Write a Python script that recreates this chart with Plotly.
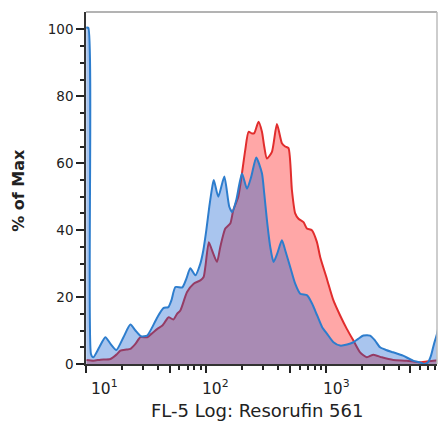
import plotly.graph_objects as go

# ---- data ----
blue_x = [10.05, 10.45, 11.0, 11.5, 12.9, 14.5, 16.0, 17.9, 20.5, 23.4, 25.8, 28.7, 32.3, 35.0,
          39.3, 44.1, 48.5, 51.4, 55.5, 63.4, 68.5, 73.9, 81.4, 89.5, 94.8, 100.4, 106.3, 112.6,
          115.9, 126.3, 141.7, 155.9, 165.1, 178.3, 198.8, 218.8, 237.5, 261.4, 291.5, 304.6,
          320.8, 341.8, 364.0, 390.8, 427.4, 455.3, 501.1, 551.3, 606.8, 693.9, 763.5, 840.3,
          924.6, 1017, 1148, 1305, 1492, 1683, 1842, 2038, 2317, 2550, 2806, 3147, 3598, 4357,
          5277, 6034, 6514, 7033, 7448, 7887, 8352, 8700]
blue_y = [100.5, 100.5, 3, 2, 5, 8, 6, 4.2, 8, 11.8, 10, 8.3, 8.5, 10.5,
          14, 16.7, 17, 19, 23, 22.9, 25.5, 28.6, 26.5, 30, 34, 40, 47, 53,
          55, 50, 56, 47, 45.4, 49, 56.9, 52.4, 56, 61.7, 57, 51,
          43, 35, 30.5, 33, 37, 34, 29, 24, 21, 20.5, 18, 14.5,
          11, 9, 6.5, 5.5, 5.8, 6.5, 7.5, 8.5, 8.5, 7, 5, 4.2, 3.5, 2.5,
          1, 0.5, 0, 0.5, 2.5, 6, 9, 12]

red_x = [10.1, 11.54, 13.2, 15.98, 17.92, 19.36, 21.72, 23.43, 25.79, 28.38, 32.27, 35.04, 39.29,
         43.24, 47.31, 48.78, 53.38, 57.29, 61.03, 69.38, 78.73, 89.5, 95.3, 98.5, 105.3, 111.9,
         123.2, 131.2, 144.4, 158.9, 168.3, 185.2, 198.8, 211.8, 225.6, 240.8, 251.6, 273.2,
         291.5, 304.6, 320.8, 353.1, 388.5, 427.4, 455.3, 485.1, 517.7, 551.3, 587.3, 646.3,
         690.0, 759.3, 835.4, 889.8, 1011.6, 1147.7, 1305, 1483, 1683, 1913, 2176, 2469, 2899,
         3619, 4677, 6034, 7783, 8846]
red_y = [1.2, 1.0, 1.3, 1.5, 2.8, 4, 4.3, 4.5, 6, 8, 8, 9, 10.5,
         11.5, 13.5, 14, 13.3, 15, 16, 21.5, 24, 25, 26, 29, 36.4, 34,
         30.5, 35, 40.5, 42, 46, 50, 57, 64, 69.4, 68.9, 69, 72.4,
         69.4, 65, 61.4, 63.4, 71.7, 66, 65, 64.5, 52, 45, 43.4, 42.4,
         40.5, 40, 36.5, 32, 25.5, 19, 14.5, 10.5, 7, 3.5, 2, 2.8, 2,
         1.2, 1, 0.5, 1, 1]

x_major = [10, 50, 100, 500, 1000, 5000]
x_minor = [20, 30, 40, 60, 70, 80, 90, 200, 300, 400, 600, 700, 800, 900,
           2000, 3000, 4000, 6000, 7000, 8000]
x_label_pos = [1, 2, 3]          # log10 of 10, 100, 1000
x_label_sup = ["1", "2", "3"]
y_major = [0, 20, 40, 60, 80, 100]
y_minor = [5, 10, 15, 25, 30, 35, 45, 50, 55, 65, 70, 75, 85, 90, 95]

FONT = "DejaVu Sans"

fig = go.Figure()
fig.add_trace(go.Scatter(
    x=red_x, y=red_y, mode="lines", fill="tozeroy",
    line=dict(color="rgb(225,45,45)", width=2, shape="spline", smoothing=0.6),
    fillcolor="rgba(255,60,60,0.45)", showlegend=False, hoverinfo="skip"))
fig.add_trace(go.Scatter(
    x=blue_x, y=blue_y, mode="lines", fill="tozeroy",
    line=dict(color="rgb(45,125,205)", width=2, shape="spline", smoothing=0.6),
    fillcolor="rgba(10,90,205,0.35)", showlegend=False, hoverinfo="skip"))

fig.update_xaxes(
    type="log", range=[1, 3.922], showgrid=False, zeroline=False, automargin=False,
    showline=True, linecolor="#333", linewidth=1.5,
    ticks="outside", tickvals=x_major, ticktext=[""] * len(x_major),
    ticklen=7, tickwidth=2, tickcolor="#222",
    minor=dict(ticks="outside", tickvals=x_minor, ticklen=4, tickwidth=1.5,
               tickcolor="#222", showgrid=False),
)
fig.update_yaxes(
    range=[0, 105.2], showgrid=False, zeroline=False, automargin=False,
    showline=True, linecolor="#333", linewidth=1.5,
    ticks="outside", tickvals=y_major, ticklen=8, tickwidth=2, tickcolor="#222",
    tickfont=dict(family=FONT, size=13.5, color="#222"),
    minor=dict(ticks="outside", tickvals=y_minor, ticklen=4, tickwidth=1.5,
               tickcolor="#222", showgrid=False),
)

x_shifts = [3, -6, -5]
for pos, sup, sh in zip(x_label_pos, x_label_sup, x_shifts):
    fig.add_annotation(
        x=pos, xref="x", y=0, yref="paper",
        text=f"10<sup>{sup}</sup>", showarrow=False, xanchor="left", yanchor="top",
        xshift=sh, yshift=-11,
        font=dict(family=FONT, size=15.5, color="#222"))

fig.add_annotation(
    x=0.487, y=-0.1307, xref="paper", yref="paper", showarrow=False,
    text="FL-5 Log: Resorufin 561", xanchor="center", yanchor="middle",
    font=dict(family=FONT, size=18, color="#222"))
fig.add_annotation(
    x=-0.1909, y=0.495, xref="paper", yref="paper", showarrow=False,
    text="<b>% of Max</b>", textangle=-90, xanchor="center", yanchor="middle",
    font=dict(family=FONT, size=16, color="#222"))

fig.add_shape(type="line", xref="paper", yref="paper", x0=0, x1=1, y0=1, y1=1,
              line=dict(color="#9a9a9a", width=1.5))
fig.add_shape(type="line", xref="paper", yref="paper", x0=1, x1=1, y0=0, y1=1,
              line=dict(color="#bdbdbd", width=1.5))

fig.update_layout(
    width=438, height=421,
    margin=dict(l=86, r=1, t=12, b=57),
    paper_bgcolor="white", plot_bgcolor="white",
    font=dict(family=FONT, color="#222"),
)

fig.write_html("out.html", config={"displayModeBar": False},
               post_script="document.body.style.margin='0';document.body.style.overflow='hidden';")
